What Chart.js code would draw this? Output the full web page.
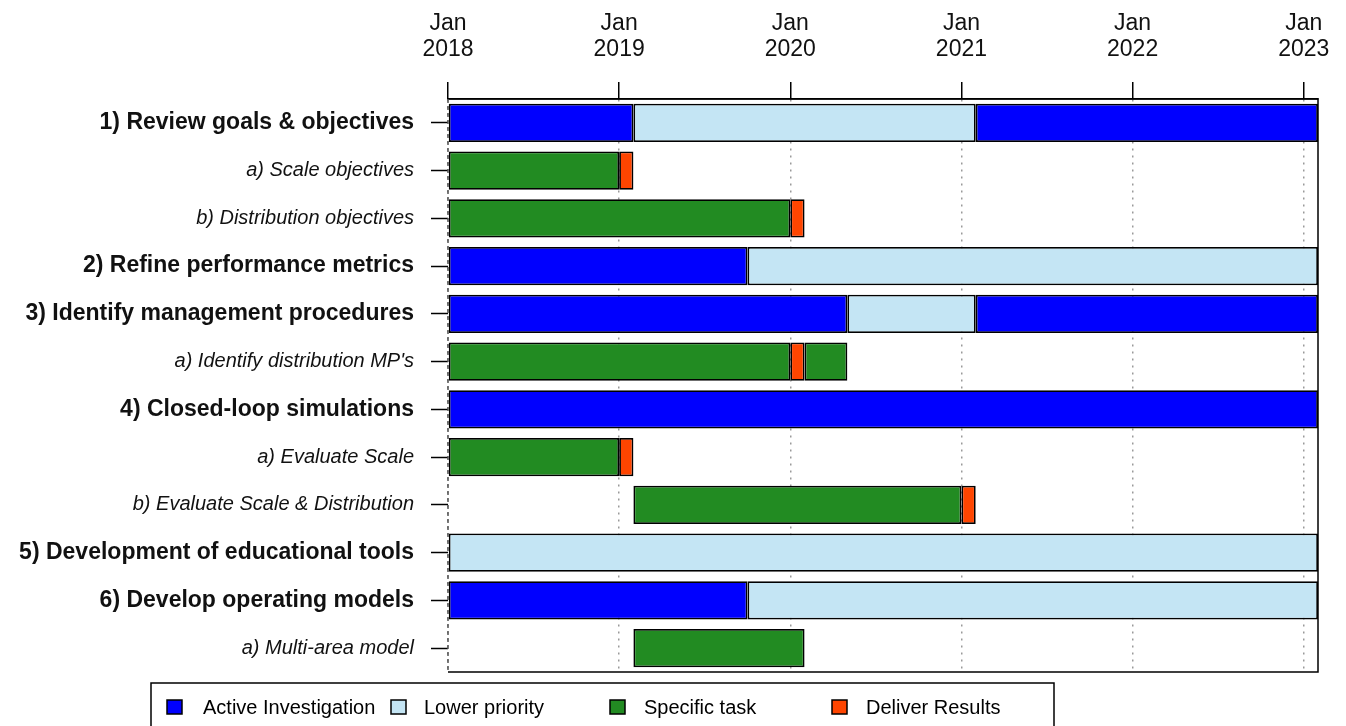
<!DOCTYPE html>
<html>
<head>
<meta charset="utf-8">
<script src="https://cdn.jsdelivr.net/npm/chart.js@4.4.1/dist/chart.umd.min.js"></script>
<style>
  html, body { margin: 0; padding: 0; background: #ffffff; }
  #wrap { width: 1346px; height: 726px; position: relative; }
</style>
</head>
<body>
<div id="wrap"><canvas id="c"></canvas></div>
<script>
// ---- Data (months since Jan 2018) ----
const taskLabels = [
  "1) Review goals & objectives",
  "a) Scale objectives",
  "b) Distribution objectives",
  "2) Refine performance metrics",
  "3) Identify management procedures",
  "a) Identify distribution MP's",
  "4) Closed-loop simulations",
  "a) Evaluate Scale",
  "b) Evaluate Scale & Distribution",
  "5) Development of educational tools",
  "6) Develop operating models",
  "a) Multi-area model"
];
const mainTasks = [0, 3, 4, 6, 9, 10];

const activeA  = [[0,13], null, null, [0,21], [0,28], null, [0,61], null, null, null, [0,21], null];
const activeB  = [[37,61], null, null, null, [37,61], null, null, null, null, null, null, null];
const lowerPri = [[13,37], null, null, [21,61], [28,37], null, null, null, null, [0,61], [21,61], null];
const specificA = [null, [0,12], [0,24], null, null, [0,24], null, [0,12], [13,36], null, null, [13,25]];
const specificB = [null, null, null, null, null, [25,28], null, null, null, null, null, null];
const deliver   = [null, [12,13], [24,25], null, null, [24,25], null, [12,13], [36,37], null, null, null];

const yearTicks = [0, 12, 24, 36, 48, 60];
const startYear = 2018;
const xMax = 61;

const legendItems = ["Active Investigation", "Lower priority", "Specific task", "Deliver Results"];
const colActive = "#0000FF", colLower = "#C4E5F4", colSpecific = "#228B22", colDeliver = "#FF4500";
const legendColors = [colActive, colLower, colSpecific, colDeliver];

const FONT = "'Liberation Sans', Arial, Helvetica, sans-serif";

function ds(label, data, color) {
  return {
    label, data,
    backgroundColor: color,
    borderColor: "#000000",
    borderWidth: 1.8,
    borderSkipped: false,
    barPercentage: 0.8,
    categoryPercentage: 1.0,
    grouped: false
  };
}

const framePlugin = {
  id: 'frame',
  afterDraw(chart) {
    const ctx = chart.ctx, a = chart.chartArea;
    ctx.save();
    ctx.strokeStyle = "#000";
    ctx.lineWidth = 1.5;
    ctx.beginPath();
    ctx.moveTo(a.left, a.top);
    ctx.lineTo(a.right, a.top);
    ctx.lineTo(a.right, a.bottom);
    ctx.lineTo(a.left, a.bottom);
    ctx.stroke();
    ctx.strokeStyle = "#555";
    ctx.setLineDash([4, 3]);
    ctx.beginPath();
    ctx.moveTo(a.left, a.top);
    ctx.lineTo(a.left, a.bottom);
    ctx.stroke();
    ctx.setLineDash([]);
    ctx.strokeStyle = "#000";
    // legend box
    ctx.beginPath();
    ctx.rect(151, 683, 903, 60);
    ctx.stroke();
    const sq = [167, 391, 610, 832];
    const tx = [203, 424, 644, 866];
    ctx.font = "20px " + FONT;
    ctx.textBaseline = "middle";
    ctx.textAlign = "left";
    for (let i = 0; i < legendItems.length; i++) {
      ctx.fillStyle = legendColors[i];
      ctx.fillRect(sq[i], 700, 15, 14);
      ctx.strokeRect(sq[i], 700, 15, 14);
      ctx.fillStyle = "#000";
      ctx.fillText(legendItems[i], tx[i], 708);
    }
    ctx.restore();
  }
};

new Chart(document.getElementById('c'), {
  type: 'bar',
  data: {
    labels: taskLabels,
    datasets: [
      ds("Active Investigation", activeA, colActive),
      ds("Active Investigation (2)", activeB, colActive),
      ds("Lower priority", lowerPri, colLower),
      ds("Specific task", specificA, colSpecific),
      ds("Specific task (2)", specificB, colSpecific),
      ds("Deliver Results", deliver, colDeliver)
    ]
  },
  options: {
    indexAxis: 'y',
    responsive: true,
    maintainAspectRatio: false,
    animation: false,
    layout: { padding: { left: 0, right: 28, top: 0, bottom: 54 } },
    plugins: { legend: { display: false }, tooltip: { enabled: false } },
    scales: {
      x: {
        type: 'linear',
        position: 'top',
        min: 0, max: xMax,
        afterBuildTicks(scale) { scale.ticks = yearTicks.map(v => ({ value: v })); },
        afterFit(scale) { scale.height = 99; scale.paddingLeft = 0; scale.paddingRight = 0; },
        ticks: {
          callback: (v) => ['Jan', String(startYear + v / 12)],
          font: { family: FONT, size: 23, lineHeight: 1.13 },
          color: '#111',
          padding: 19,
          maxRotation: 0,
          autoSkip: false
        },
        grid: {
          color: '#9a9a9a',
          lineWidth: 1.5,
          tickBorderDash: [],
          tickColor: '#000',
          tickWidth: 1.5,
          tickLength: 17,
          drawOnChartArea: true
        },
        border: { display: true, color: '#000', width: 1.5, dash: [2, 5] }
      },
      y: {
        type: 'category',
        offset: true,
        afterFit(scale) { scale.width = 448; scale.paddingTop = 0; scale.paddingBottom = 0; },
        ticks: {
          color: '#111',
          padding: 17,
          autoSkip: false,
          font: (ctx) => mainTasks.includes(ctx.index)
            ? { family: FONT, size: 23, weight: 'bold' }
            : { family: FONT, size: 20, style: 'italic' }
        },
        grid: {
          offset: false,
          drawOnChartArea: false,
          tickColor: '#000',
          tickWidth: 1.5,
          tickLength: 17
        },
        border: { display: false }
      }
    }
  },
  plugins: [framePlugin]
});
</script>
</body>
</html>
